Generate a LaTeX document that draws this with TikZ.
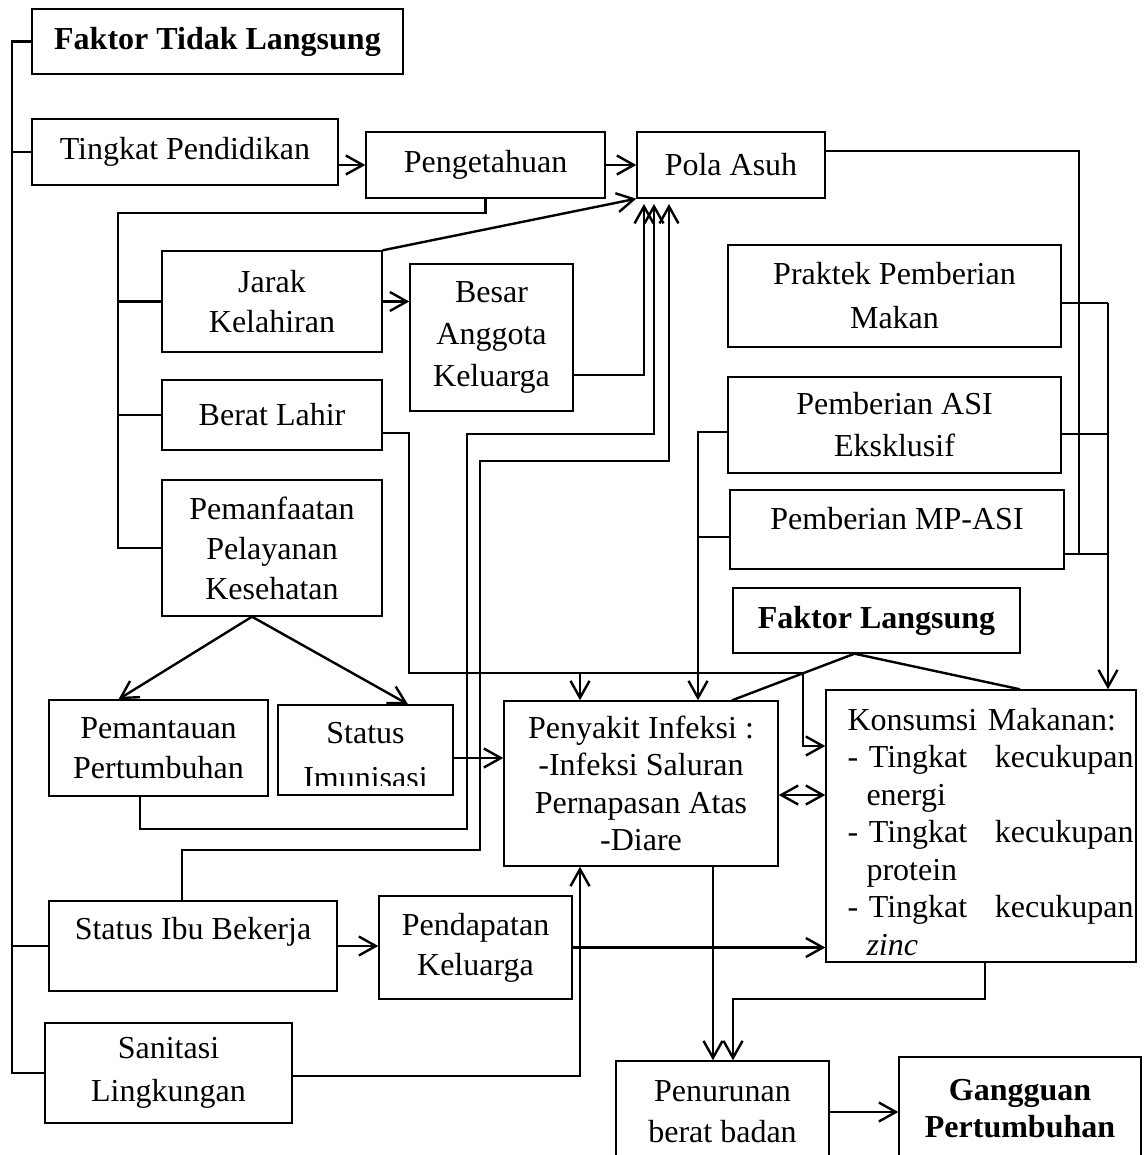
\documentclass[tikz,border=0pt]{standalone}
\usepackage{fontspec}
\setmainfont{Liberation Serif}
\usetikzlibrary{arrows.meta}
\tikzstyle{recNode} = [rectangle, draw=black, line width=1.4pt, inner sep=0pt, align=center]
\tikzstyle{recNodeB} = [recNode, font=\fontsize{32}{37}\selectfont\bfseries]
\tikzstyle{link} = [draw=black, line width=2.4pt]
\tikzstyle{arrow} = [link, ->]
\tikzstyle{arrowD} = [link, <->]

\begin{document}
\begin{tikzpicture}[x=1pt, y=-1pt, font=\fontsize{32}{40}\selectfont, >={Straight Barb[length=17pt,width=19pt]}]
    \clip (0,0) rectangle (1144,1155);

    % faktor tidak langsung
    \node (ftl) [recNodeB, minimum width=371, minimum height=65] at (217.5,41.5) {Faktor Tidak Langsung};
    \node (pendidikan) [recNode, minimum width=306, minimum height=66] at (185,152) {Tingkat Pendidikan};
    \node (pengetahuan) [recNode, minimum width=239, minimum height=66] at (485.5,165) {Pengetahuan};
    \node (polaasuh) [recNode, minimum width=188, minimum height=66] at (731,165) {Pola Asuh};
    \node (jarak) [recNode, minimum width=220, minimum height=101] at (272,301.5) {Jarak\\Kelahiran};
    \node (besar) [recNode, minimum width=163, minimum height=147, font=\fontsize{32}{42}\selectfont] at (491.5,337.5) {Besar\\Anggota\\Keluarga};
    \node (berat) [recNode, minimum width=220, minimum height=70] at (272,415) {Berat Lahir};
    \node (pemanfaatan) [recNode, minimum width=220, minimum height=136] at (272,548) {Pemanfaatan\\Pelayanan\\Kesehatan};
    \node (pemantauan) [recNode, minimum width=219, minimum height=96] at (158.5,748) {Pemantauan\\Pertumbuhan};
    \node (imunisasi) [recNode, minimum width=175, minimum height=90, path picture={
        \clip ([yshift=10pt]path picture bounding box.south west) rectangle (path picture bounding box.north east);
        \node (imunisasiText) [draw=none, align=center, font=\fontsize{32}{45}\selectfont] at ([yshift=-5.5pt]path picture bounding box.center) {Status\\Imunisasi};
    }] at (365.5,750) {};
    \node (statusibu) [recNode, minimum width=288, minimum height=90, text depth=35pt] at (193,946) {Status Ibu Bekerja};
    \node (pendapatan) [recNode, minimum width=193, minimum height=103] at (475.5,947.5) {Pendapatan\\Keluarga};
    \node (sanitasi) [recNode, minimum width=247, minimum height=100, font=\fontsize{32}{43}\selectfont] at (168.5,1073) {Sanitasi\\Lingkungan};

    % faktor langsung
    \node (praktek) [recNode, minimum width=333, minimum height=102, font=\fontsize{32}{44}\selectfont] at (894.5,296) {Praktek Pemberian\\Makan};
    \node (asi) [recNode, minimum width=333, minimum height=96, font=\fontsize{32}{42}\selectfont] at (894.5,425) {Pemberian ASI\\Eksklusif};
    \node (mpasi) [recNode, minimum width=334, minimum height=79, text depth=22pt] at (897,529.5) {Pemberian MP-ASI};
    \node (flangsung) [recNodeB, minimum width=287, minimum height=65] at (876.5,620.5) {Faktor Langsung};
    \node (penyakit) [recNode, minimum width=274, minimum height=165, font=\fontsize{32}{37.5}\selectfont] at (641,783.5) {Penyakit Infeksi :\\-Infeksi Saluran\\Pernapasan Atas\\-Diare};
    \node (konsumsi) [recNode, minimum width=310, minimum height=272] at (981,826) {};
    \node (konsumsiText) [anchor=north west, inner sep=0pt, text width=286, align=left, font=\fontsize{32}{37.5}\selectfont] at ([xshift=22pt,yshift=-18.7pt]konsumsi.north west) {\mbox{Konsumsi Makanan:}\hfill\\
        - Tingkat\hfill kecukupan\\
        \hspace*{19pt}energi\\
        - Tingkat\hfill kecukupan\\
        \hspace*{19pt}protein\\
        - Tingkat\hfill kecukupan\\
        \hspace*{19pt}\textit{zinc}};
    \node (penurunan) [recNode, minimum width=213, minimum height=102, font=\fontsize{32}{41}\selectfont] at (722.5,1112) {Penurunan\\berat badan};
    \node (gangguan) [recNodeB, minimum width=242, minimum height=103] at (1020,1108.5) {Gangguan\\Pertumbuhan};

    % left trunk
    \coordinate (trunk) at (12,41.5);
    \draw [link] (ftl.west) -- (trunk) |- (sanitasi.west);
    \draw [link] (pendidikan.west) -- (pendidikan.west -| trunk);
    \draw [link] (statusibu.west) -- (statusibu.west -| trunk);

    % pengetahuan group
    \coordinate (spine) at (118,213);
    \draw [link] (pengetahuan.south) |- (spine) |- (pemanfaatan.west);
    \draw [link] (jarak.west) -- (jarak.west -| spine);
    \draw [link] (berat.west) -- (berat.west -| spine);

    % into pola asuh
    \draw [arrow] (pendidikan.east |- pengetahuan.west) -- (pengetahuan.west);
    \draw [arrow] (pengetahuan) -- (polaasuh);
    \draw [arrow] (jarak.north east) -- (polaasuh.south west);
    \draw [arrow] (jarak.east) -- (jarak.east -| besar.west);
    \coordinate (pa1) at (644,204);
    \coordinate (pa2) at (654,204);
    \coordinate (pa3) at (669,204);
    \draw [arrow] ([yshift=-37.5pt]besar.east) -| (pa1);
    \draw [arrow] ([xshift=-18.5pt]pemantauan.south) -- ++(0,32) -| (467,434) -| (pa2);
    \draw [arrow] ([xshift=-11pt]statusibu.north) |- (480,850) |- (669,461) -- (pa3);

    % pelayanan kesehatan
    \draw [arrow] ([xshift=-20pt]pemanfaatan.south) -- ([xshift=-40pt]pemantauan.north);
    \draw [arrow] ([xshift=-20pt]pemanfaatan.south) -- ([xshift=42.5pt]imunisasi.north);

    % berat lahir
    \coordinate (bJunc) at (580,673);
    \draw [arrow] ([yshift=-18pt]berat.east) -| (409,673) -| (803,746) -- ([yshift=80pt]konsumsi.west);
    \draw [arrow] (bJunc) -- (bJunc |- penyakit.north);

    % asi, mp-asi
    \coordinate (asiBus) at (698,0);
    \draw [arrow] ([yshift=-7pt]asi.west) -| (asiBus |- penyakit.north);
    \draw [link] ([yshift=-7.5pt]mpasi.west) -- ++(-32,0);

    % right side
    \draw [link] ([yshift=14pt]polaasuh.east) -| (1079,554);
    \coordinate (feedBus) at (1108,303);
    \draw [link] ([yshift=-7pt]praktek.east) -- (feedBus);
    \draw [link] ([yshift=-9pt]asi.east) -- ++(47,0);
    \draw [link] ([yshift=-24.5pt]mpasi.east) -- ++(44,0);
    \draw [arrow] (feedBus) -- (feedBus |- konsumsi.north);

    % faktor langsung
    \draw [link] ([xshift=-22pt]flangsung.south) -- ([xshift=91pt]penyakit.north);
    \draw [link] ([xshift=-22pt]flangsung.south) -- ([xshift=39pt]konsumsi.north);

    % infeksi, konsumsi, penurunan
    \coordinate (imunOut) at ([yshift=-8pt]imunisasi.east);
    \draw [arrow] (imunOut) -- (imunOut -| penyakit.west);
    \coordinate (pkOut) at ([yshift=-11.5pt]penyakit.east);
    \draw [arrowD] (pkOut) -- (pkOut -| konsumsi.west);
    \draw [arrow] (statusibu.east) -- (statusibu.east -| pendapatan.west);
    \draw [arrow] (pendapatan.east) -- (pendapatan.east -| konsumsi.west);
    \draw [arrow] ([yshift=-3pt]sanitasi.east) -| ([xshift=-61pt]penyakit.south);
    \draw [arrow] ([xshift=72pt]penyakit.south) -- ([xshift=-9.5pt]penurunan.north);
    \draw [arrow] ([xshift=4pt]konsumsi.south) -- ++(0,36) -| ([xshift=10.5pt]penurunan.north);
    \draw [arrow] (penurunan.east) -- (penurunan.east -| gangguan.west);

\end{tikzpicture}
\end{document}
